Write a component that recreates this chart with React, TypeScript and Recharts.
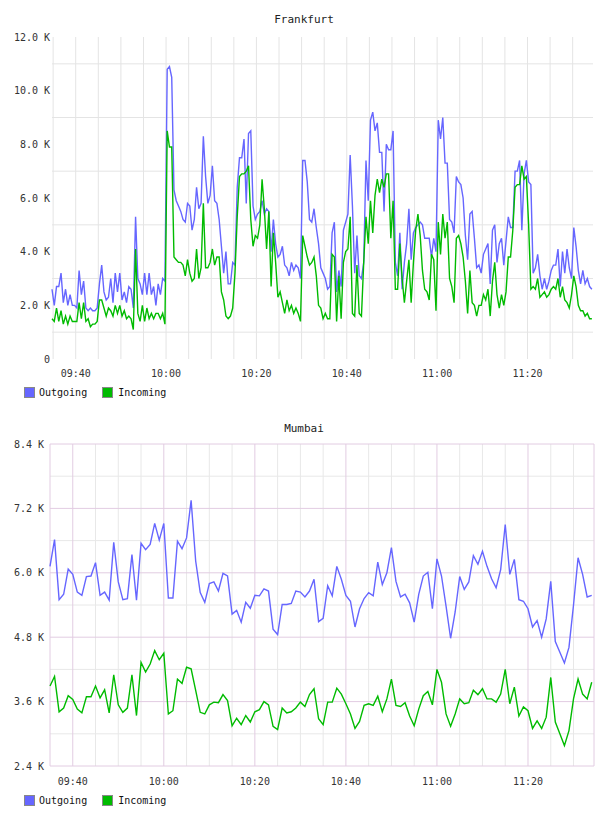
import { CartesianGrid, Line, LineChart, XAxis, YAxis } from "recharts";

const FONT = "'DejaVu Sans Mono', monospace";
const BLUE = "#6666ff";
const GREEN = "#00bb00";
const TEXT = "#333";

// minutes after 09:00
const frankfurtStart = 34.75;
const frankfurtStep = 0.5;
const frankfurtOutgoing = [
  2.6, 2.0, 2.7, 2.7, 3.2, 2.1, 2.6, 2.0, 2.4, 2.0,
  2.0, 1.9, 3.3, 2.4, 2.9, 1.9, 1.8, 1.9, 1.8, 1.8,
  1.9, 2.8, 3.5, 2.5, 2.2, 2.3, 3.0, 2.1, 3.2, 2.5,
  3.2, 2.2, 2.5, 2.1, 2.7, 2.6, 1.9, 5.3, 3.0, 2.8,
  2.4, 3.2, 2.4, 3.2, 2.4, 2.7, 2.0, 2.8, 2.4, 3.0,
  2.9, 10.8, 10.9, 10.5, 6.3, 5.9, 5.7, 5.5, 5.2, 5.1,
  5.8, 5.7, 4.8, 5.2, 6.4, 5.6, 5.8, 8.3, 6.8, 5.8,
  6.1, 7.2, 5.9, 5.8, 5.2, 4.2, 3.2, 4.0, 2.8, 2.8,
  3.6, 3.5, 6.4, 7.5, 7.5, 8.2, 5.8, 8.4, 8.5, 5.7,
  5.2, 5.4, 5.5, 5.9, 5.4, 5.6, 5.5, 4.0, 5.2, 4.3,
  3.8, 3.9, 4.2, 3.5, 3.4, 3.1, 3.6, 3.3, 3.5, 3.4,
  3.0, 7.4, 7.4, 6.6, 5.2, 5.1, 5.6, 4.9, 4.3, 3.4,
  3.2, 3.0, 2.6, 2.7, 4.7, 5.1, 2.5, 3.3, 2.7, 4.8,
  5.1, 5.4, 7.6, 5.7, 3.2, 4.6, 3.1, 3.0, 3.6, 7.4,
  5.9, 8.9, 9.2, 8.5, 8.8, 7.7, 7.7, 5.5, 8.0, 7.8,
  7.8, 8.5, 3.6, 3.1, 4.7, 2.6, 3.6, 4.3, 5.6, 3.7,
  4.7, 4.9, 5.0, 5.1, 5.0, 4.5, 4.5, 4.5, 3.8, 4.5,
  4.0, 8.9, 8.2, 9.0, 7.3, 7.3, 5.2, 5.1, 4.7, 6.8,
  6.6, 6.5, 6.0, 4.6, 3.7, 5.4, 5.5, 4.5, 3.4, 3.5,
  3.2, 3.9, 4.1, 4.3, 2.8, 4.8, 5.0, 3.6, 4.3, 4.5,
  3.5, 4.4, 5.3, 4.9, 4.9, 7.0, 7.0, 7.4, 4.8, 6.9,
  7.4, 6.6, 6.5, 3.2, 3.4, 3.9, 3.1, 2.6, 3.0, 2.6,
  2.9, 3.3, 3.5, 3.5, 4.1, 2.7, 4.0, 3.2, 4.1, 3.4,
  3.0, 4.9, 4.2, 3.3, 2.8, 3.3, 2.8, 3.0, 2.7, 2.6,
];
const frankfurtIncoming = [
  1.5, 1.4, 1.9, 1.4, 1.8, 1.3, 1.6, 1.3, 1.6, 1.4,
  1.4, 1.4, 2.1, 1.5, 2.1, 1.4, 1.5, 1.2, 1.3, 1.3,
  1.4, 2.2, 2.2, 1.9, 1.6, 1.9, 1.8, 1.6, 2.0, 1.7,
  2.0, 1.6, 1.8, 1.5, 1.6, 1.5, 1.1, 4.1, 1.7, 1.4,
  2.0, 1.4, 1.9, 1.5, 1.7, 1.5, 1.7, 1.7, 1.5, 1.7,
  1.3, 8.5, 7.9, 7.9, 3.8, 3.7, 3.6, 3.6, 3.5, 3.1,
  3.7, 3.2, 2.9, 3.0, 4.1, 3.0, 3.4, 5.8, 3.4, 3.4,
  3.6, 4.1, 3.5, 3.8, 3.8, 2.5, 2.2, 1.6, 1.5, 1.6,
  1.9, 3.2, 5.3, 6.8, 6.9, 6.9, 7.0, 7.2, 5.2, 4.2,
  4.6, 4.5, 5.0, 6.7, 5.6, 4.1, 5.5, 2.7, 4.7, 3.6,
  2.3, 2.5, 2.1, 1.7, 2.2, 1.8, 2.0, 1.7, 1.9, 1.7,
  1.4, 4.6, 4.2, 3.8, 3.5, 3.6, 3.8, 3.1, 2.0, 1.9,
  1.5, 1.7, 1.5, 1.5, 3.9, 3.8, 1.4, 3.1, 1.5, 3.6,
  4.0, 4.1, 5.3, 1.7, 1.6, 3.5, 1.7, 1.6, 3.6, 5.3,
  4.3, 5.9, 4.7, 6.1, 6.7, 6.2, 6.7, 6.4, 6.9, 6.9,
  4.5, 5.9, 2.6, 2.6, 4.3, 3.0, 2.1, 2.9, 3.7, 2.1,
  3.6, 4.8, 5.4, 4.6, 3.3, 2.6, 2.5, 2.2, 3.9, 3.7,
  1.8, 5.1, 3.9, 5.4, 4.5, 5.1, 3.0, 2.7, 2.1, 4.5,
  4.6, 4.3, 3.8, 2.9, 1.7, 3.3, 2.1, 2.0, 1.6, 2.0,
  2.0, 2.4, 2.2, 2.6, 1.6, 2.9, 3.6, 2.4, 1.9, 2.4,
  2.0, 2.5, 3.8, 3.8, 4.8, 6.4, 6.5, 6.5, 7.2, 6.7,
  6.8, 5.0, 2.6, 2.7, 2.6, 3.0, 2.3, 2.4, 2.5, 2.3,
  2.4, 2.6, 2.7, 2.6, 3.0, 2.3, 2.7, 2.2, 2.1, 1.9,
  2.4, 3.1, 2.7, 2.0, 1.8, 1.8, 1.6, 1.7, 1.5, 1.5,
];

const mumbaiStart = 35;
const mumbaiStep = 1;
const mumbaiOutgoing = [
  6.12, 6.62, 5.5, 5.6, 6.07, 5.97, 5.64, 5.58, 5.93, 5.94,
  6.19, 5.58, 5.64, 5.49, 6.57, 5.83, 5.5, 5.52, 6.34, 5.49,
  6.55, 6.43, 6.53, 6.92, 6.61, 6.92, 5.53, 5.53, 6.59, 6.45,
  6.65, 7.35, 6.22, 5.63, 5.45, 5.8, 5.83, 5.66, 5.99, 5.94,
  5.23, 5.3, 5.08, 5.45, 5.34, 5.58, 5.57, 5.7, 5.66, 4.95,
  4.85, 5.41, 5.41, 5.43, 5.66, 5.64, 5.55, 5.66, 5.88, 5.09,
  5.15, 5.76, 5.57, 6.12, 5.88, 5.58, 5.47, 4.99, 5.33, 5.52,
  5.63, 5.57, 6.2, 5.78, 6.0, 6.47, 5.84, 5.55, 5.6, 5.44,
  5.08, 5.6, 5.94, 6.01, 5.33, 6.26, 5.94, 5.38, 4.78, 5.27,
  5.93, 5.69, 5.83, 6.32, 6.16, 6.4, 6.12, 5.89, 5.72, 6.06,
  6.9, 5.97, 6.25, 5.5, 5.47, 5.33, 4.99, 5.11, 4.8, 5.14,
  5.84, 4.72, 4.52, 4.32, 4.61, 5.4, 6.28, 5.97, 5.55, 5.58,
];
const mumbaiIncoming = [
  3.89, 4.07, 3.41, 3.48, 3.71, 3.64, 3.46, 3.39, 3.69, 3.69,
  3.89, 3.67, 3.82, 3.39, 4.1, 3.54, 3.4, 3.48, 4.1, 3.34,
  4.33, 4.15, 4.3, 4.55, 4.38, 4.5, 3.37, 3.43, 4.02, 3.94,
  4.24, 4.21, 3.81, 3.4, 3.37, 3.54, 3.59, 3.58, 3.73, 3.62,
  3.15, 3.29, 3.17, 3.34, 3.22, 3.41, 3.45, 3.6, 3.54, 3.14,
  3.08, 3.48, 3.39, 3.41, 3.48, 3.59, 3.51, 3.73, 3.84, 3.28,
  3.17, 3.59, 3.59, 3.85, 3.74, 3.56, 3.37, 3.1, 3.23, 3.53,
  3.56, 3.53, 3.7, 3.41, 3.65, 4.02, 3.53, 3.51, 3.58, 3.33,
  3.15, 3.46, 3.71, 3.79, 3.54, 4.2, 3.96, 3.37, 3.14, 3.37,
  3.65, 3.56, 3.58, 3.81, 3.73, 3.84, 3.65, 3.65, 3.59, 3.74,
  4.2, 3.56, 3.87, 3.33, 3.5, 3.43, 3.1, 3.24, 3.1, 3.31,
  4.05, 3.22, 3.0, 2.78, 3.06, 3.65, 4.02, 3.74, 3.65, 3.96,
];

const timeTicks = [40, 60, 80, 100, 120, 140];
const fiveMinuteLines = [35, 40, 45, 50, 55, 60, 65, 70, 75, 80, 85, 90, 95, 100, 105, 110, 115, 120, 125, 130, 135, 140, 145, 150];
const frankfurtYTicks = [0, 2, 4, 6, 8, 10, 12];
const frankfurtGridY = [1, 3, 5, 7, 9, 11];
const mumbaiYTicks = [2.4, 3.6, 4.8, 6.0, 7.2, 8.4];
const mumbaiMinorY = [3.0, 4.2, 5.4, 6.6, 7.8];

const toRows = (start: number, step: number, out: number[], inc: number[]) =>
  out.map((v, i) => ({ t: start + i * step, outgoing: v, incoming: inc[i] }));

const fmtTime = (m: number) => {
  const h = 9 + Math.floor(m / 60);
  const mm = m % 60;
  return `${String(h).padStart(2, "0")}:${String(mm).padStart(2, "0")}`;
};

const tickStyle = { fontSize: 10, fill: TEXT, fontFamily: FONT };

function Title({ top, text }: { top: number; text: string }) {
  return (
    <div style={{ position: "absolute", left: 0, top, width: 608, textAlign: "center", font: `11px ${FONT}`, color: "#222" }}>
      {text}
    </div>
  );
}

function SeriesLegend({ top }: { top: number }) {
  const box = (color: string) => ({
    width: 11,
    height: 11,
    background: color,
    border: "1px solid #888",
    boxSizing: "border-box" as const,
    display: "inline-block",
  });
  return (
    <div style={{ position: "absolute", left: 24, top, height: 11, display: "flex", alignItems: "center", font: `10px ${FONT}`, color: "#111" }}>
      <span style={box(BLUE)} />
      <span style={{ marginLeft: 4 }}>Outgoing</span>
      <span style={{ ...box(GREEN), marginLeft: 15 }} />
      <span style={{ marginLeft: 5 }}>Incoming</span>
    </div>
  );
}

export default function App() {
  const frankfurt = toRows(frankfurtStart, frankfurtStep, frankfurtOutgoing, frankfurtIncoming);
  const mumbai = toRows(mumbaiStart, mumbaiStep, mumbaiOutgoing, mumbaiIncoming);
  const majorV = timeTicks;
  const minorV = fiveMinuteLines.filter((m) => !timeTicks.includes(m) && m !== 35);

  return (
    <div style={{ position: "absolute", left: 0, top: 0, width: 608, height: 816, background: "#fff" }}>
      <Title top={13} text="Frankfurt" />
      <div style={{ position: "absolute", left: 0, top: 0 }}>
        <LineChart width={608} height={410} data={frankfurt} margin={{ top: 37, right: 15, bottom: 31, left: 2 }}>
          <CartesianGrid stroke="#e4e4e4" horizontalValues={frankfurtGridY} verticalValues={fiveMinuteLines} />
          <XAxis
            dataKey="t"
            type="number"
            domain={[34.75, 154.5]}
            ticks={timeTicks}
            tickFormatter={fmtTime}
            axisLine={false}
            tickLine={false}
            tickSize={0}
            tickMargin={11}
            height={20}
            tick={tickStyle}
            interval={0}
          />
          <YAxis
            type="number"
            domain={[0, 12]}
            ticks={frankfurtYTicks}
            tickFormatter={(v: number) => (v === 0 ? "0" : `${v.toFixed(1)} K`)}
            axisLine={false}
            tickLine={false}
            tickSize={0}
            tickMargin={2}
            width={50}
            tick={tickStyle}
            interval={0}
          />
          <Line type="linear" dataKey="outgoing" stroke={BLUE} strokeWidth={1.4} dot={false} isAnimationActive={false} />
          <Line type="linear" dataKey="incoming" stroke={GREEN} strokeWidth={1.4} dot={false} isAnimationActive={false} />
        </LineChart>
      </div>
      <SeriesLegend top={387} />

      <Title top={422} text="Mumbai" />
      <div style={{ position: "absolute", left: 0, top: 410 }}>
        <LineChart width={608} height={406} data={mumbai} margin={{ top: 34, right: 14, bottom: 30, left: 0 }}>
          <CartesianGrid stroke="#e8e8e8" horizontalValues={mumbaiMinorY} verticalValues={minorV} />
          <CartesianGrid stroke="#e2cce2" horizontalValues={mumbaiYTicks} verticalValues={[35, ...majorV, 154.5]} />
          <XAxis
            dataKey="t"
            type="number"
            domain={[35, 154.5]}
            ticks={timeTicks}
            tickFormatter={fmtTime}
            axisLine={false}
            tickLine={false}
            tickSize={0}
            tickMargin={12}
            height={20}
            tick={tickStyle}
            interval={0}
          />
          <YAxis
            type="number"
            domain={[2.4, 8.4]}
            ticks={mumbaiYTicks}
            tickFormatter={(v: number) => `${v.toFixed(1)} K`}
            axisLine={false}
            tickLine={false}
            tickSize={0}
            tickMargin={6}
            width={50}
            tick={tickStyle}
            interval={0}
          />
          <Line type="linear" dataKey="outgoing" stroke={BLUE} strokeWidth={1.4} dot={false} isAnimationActive={false} />
          <Line type="linear" dataKey="incoming" stroke={GREEN} strokeWidth={1.4} dot={false} isAnimationActive={false} />
        </LineChart>
      </div>
      <SeriesLegend top={795} />
    </div>
  );
}
